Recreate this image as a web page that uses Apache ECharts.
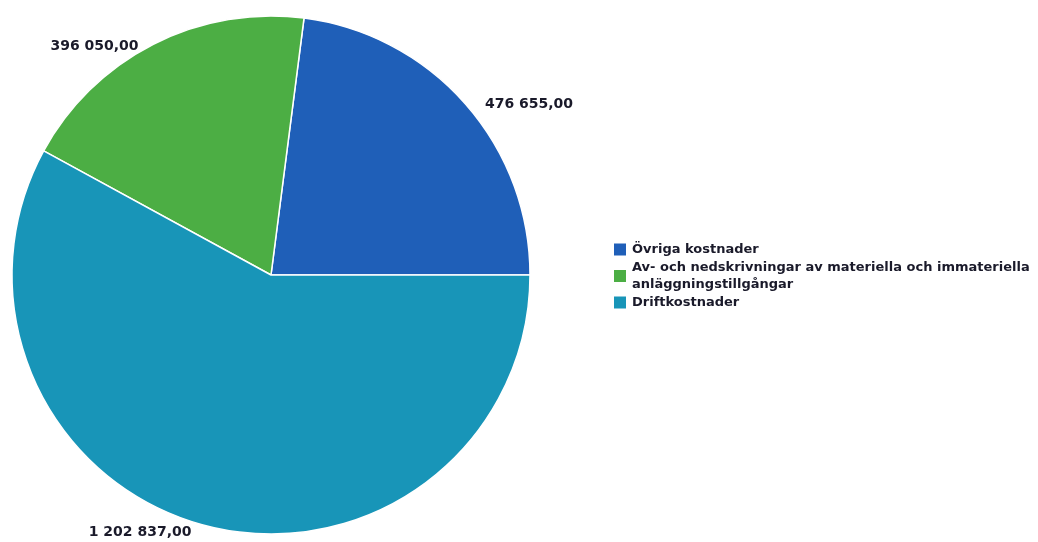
<!DOCTYPE html>
<html><head><meta charset="utf-8">
<script src="https://cdn.jsdelivr.net/npm/echarts@6/dist/echarts.min.js"></script>
<style>html,body{margin:0;padding:0;background:#fff}#c{width:1038px;height:542px}</style>
</head><body><div id="c"></div>
<script>
const categories = ['Övriga kostnader', 'Av- och nedskrivningar av materiella och immateriella anläggningstillgångar', 'Driftkostnader'];
const values = [476655, 396050, 1202837];
const valueLabels = ['476 655,00', '396 050,00', '1 202 837,00'];
const colors = ['#1f5fb8', '#4cae44', '#1895b8'];
const labelShift = [[0, 4], [3, 7], [1, 1]];

const chart = echarts.init(document.getElementById('c'));
chart.setOption({
  backgroundColor: '#fff',
  animation: false,
  color: colors,
  legend: {
    orient: 'vertical', left: 612, top: 241, padding: 0,
    itemWidth: 14, itemHeight: 14, itemGap: 1,
    icon: 'rect',
    data: categories,
    formatter: n => n.replace(' anläggningstillgångar', '\nanläggningstillgångar'),
    textStyle: { fontFamily: 'DejaVu Sans', fontWeight: 'bold', fontSize: 13, color: '#1a1a2a', lineHeight: 17 }
  },
  series: [{
    type: 'pie',
    center: [271, 275], radius: 259,
    startAngle: 0, clockwise: false,
    itemStyle: { borderColor: '#fff', borderWidth: 1.5 },
    label: {
      show: true, position: 'outside',
      formatter: p => valueLabels[p.dataIndex],
      fontFamily: 'DejaVu Sans', fontWeight: 'bold', fontSize: 14, color: '#1a1a2a'
    },
    labelLine: { show: false, length: 6, length2: 10 },
    labelLayout: p => ({ dx: labelShift[p.dataIndex][0], dy: labelShift[p.dataIndex][1] }),
    emphasis: { disabled: true },
    data: categories.map((c, i) => ({ name: c, value: values[i] }))
  }]
});
</script></body></html>
